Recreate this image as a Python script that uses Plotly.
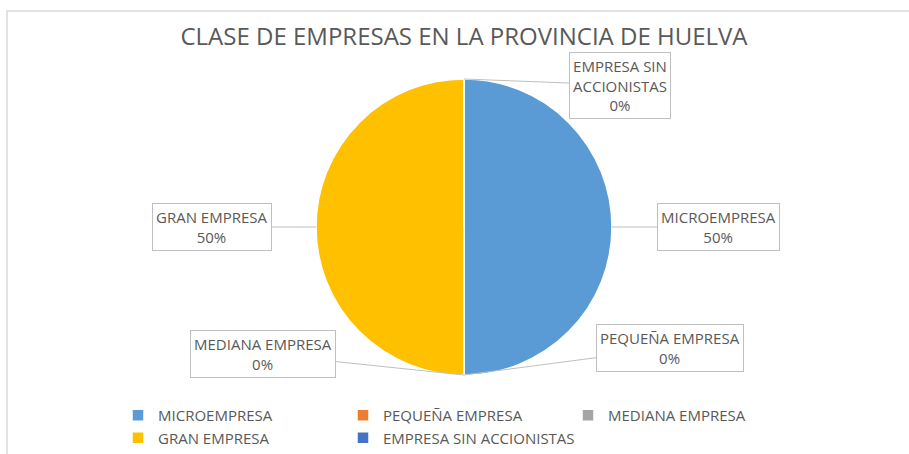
import math
import plotly.graph_objects as go

# ---- data ----
categories = ["MICROEMPRESA", "PEQUEÑA EMPRESA", "MEDIANA EMPRESA", "GRAN EMPRESA", "EMPRESA SIN ACCIONISTAS"]
values = [50, 0, 0, 50, 0]
colors = ["#5B9BD5", "#ED7D31", "#A5A5A5", "#FFC000", "#4472C4"]
title_text = "CLASE DE EMPRESAS EN LA PROVINCIA DE HUELVA"

# ---- layout geometry (pixels) ----
W, H = 909, 454
MR = 100                 # right margin (forces the legend to wrap after 3 entries)
PW = W - MR              # plot-area width
CX, CY, R = 464, 227, 148
# label box centres (pixels) per category
label_boxes = [(718, 227), (670, 348), (263, 354), (212, 227), (620, 85)]

TEXT = "#595959"
FONT = "Open Sans"


def fx(px):
    return px / PW


def fy(py):
    return 1 - py / H


fig = go.Figure()
fig.add_trace(go.Pie(
    labels=categories,
    values=values,
    marker=dict(colors=colors, line=dict(color="white", width=1.5)),
    sort=False,
    direction="clockwise",
    rotation=0,
    textinfo="none",
    hoverinfo="label+percent",
    domain=dict(x=[fx(CX - R), fx(CX + R)], y=[fy(CY + R), fy(CY - R)]),
))

total = sum(values)
annotations = []
cum = 0
for cat, v, (bx, by) in zip(categories, values, label_boxes):
    theta = 2 * math.pi * (cum + v / 2) / total
    cum += v
    px = CX + R * math.sin(theta)
    py = CY - R * math.cos(theta)
    pct = round(100 * v / total)
    label = cat
    if cat == "EMPRESA SIN ACCIONISTAS":
        label = "EMPRESA SIN<br>ACCIONISTAS"
    annotations.append(dict(
        x=fx(px), y=fy(py), xref="paper", yref="paper",
        ax=bx - px, ay=by - py, axref="pixel", ayref="pixel",
        text=f"{label}<br>{pct}%",
        showarrow=True, arrowhead=0, arrowwidth=1, arrowcolor="#BFBFBF",
        font=dict(family=FONT, size=15, color=TEXT),
        bgcolor="white", bordercolor="#BFBFBF", borderwidth=1, borderpad=3,
        align="center",
    ))

fig.update_layout(
    width=W, height=H,
    margin=dict(l=0, r=MR, t=0, b=0, autoexpand=False),
    paper_bgcolor="white",
    plot_bgcolor="white",
    title=dict(text=title_text, x=464 / W, xanchor="center", y=1 - 37 / H, yanchor="middle",
               font=dict(family=FONT, size=24, color=TEXT)),
    showlegend=True,
    legend=dict(orientation="h", x=fx(118), xanchor="left", y=fy(399), yanchor="top",
                entrywidth=180, entrywidthmode="pixels",
                font=dict(family=FONT, size=15, color=TEXT), traceorder="normal"),
    annotations=annotations,
    shapes=[dict(type="rect", xref="paper", yref="paper",
                 x0=fx(7), x1=fx(W + 10), y0=fy(H + 10), y1=fy(11),
                 line=dict(color="#D9D9D9", width=1.5), fillcolor="rgba(0,0,0,0)", layer="below")],
)

fig.write_html("out.html", config={"displayModeBar": False},
               post_script="document.body.style.margin='0';")
